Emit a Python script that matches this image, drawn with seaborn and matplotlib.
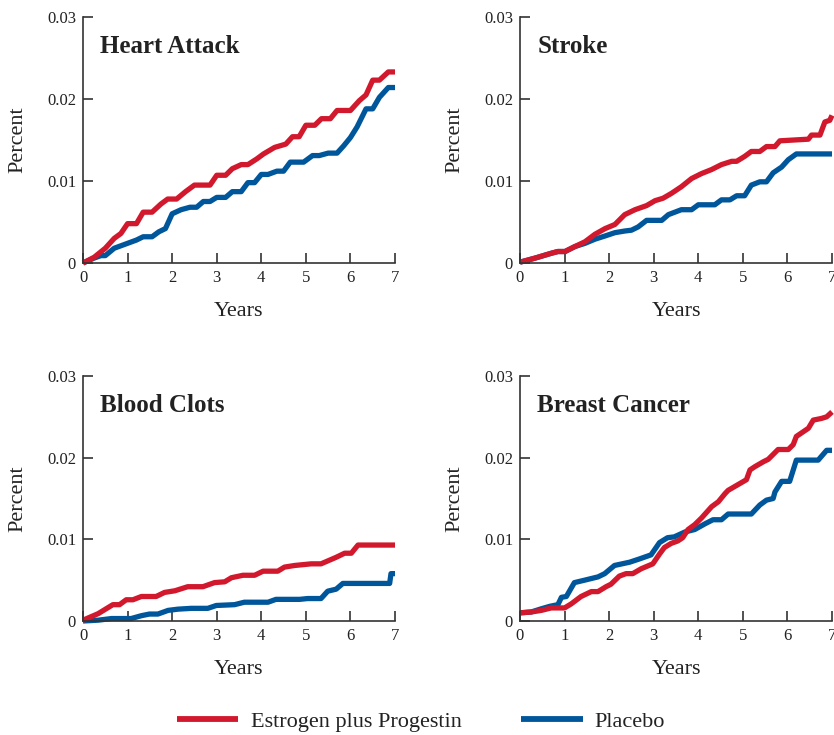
import matplotlib
matplotlib.use("Agg")
import matplotlib.pyplot as plt
from matplotlib.lines import Line2D
import seaborn as sns
import pandas as pd

# Cumulative event rates (years, percent)
heart_ep_years = [0, 0.25, 0.5, 0.7, 0.85, 1.0, 1.2, 1.35, 1.55, 1.75, 1.9, 2.1, 2.3, 2.5, 2.85,
                  3.0, 3.2, 3.35, 3.55, 3.7, 3.9, 4.05, 4.3, 4.55, 4.7, 4.85, 5.0, 5.2, 5.35,
                  5.55, 5.7, 6.0, 6.2, 6.35, 6.5, 6.65, 6.85, 7.0]
heart_ep_pct = [0, 0.0007, 0.0018, 0.0030, 0.0036, 0.0048, 0.0048, 0.0062, 0.0062, 0.0072,
                0.0078, 0.0078, 0.0087, 0.0095, 0.0095, 0.0107, 0.0107, 0.0115, 0.0120, 0.0120,
                0.0127, 0.0133, 0.0141, 0.0145, 0.0154, 0.0154, 0.0168, 0.0168, 0.0176, 0.0176,
                0.0186, 0.0186, 0.0198, 0.0205, 0.0223, 0.0223, 0.0233, 0.0233]
heart_pl_years = [0, 0.25, 0.4, 0.5, 0.7, 0.85, 1.0, 1.2, 1.35, 1.55, 1.7, 1.85, 2.0, 2.2, 2.4,
                  2.55, 2.7, 2.85, 3.0, 3.2, 3.35, 3.55, 3.7, 3.85, 4.0, 4.15, 4.35, 4.5, 4.65,
                  4.95, 5.15, 5.3, 5.5, 5.7, 5.85, 6.0, 6.15, 6.35, 6.5, 6.65, 6.85, 7.0]
heart_pl_pct = [0, 0.0006, 0.0009, 0.0009, 0.0018, 0.0021, 0.0024, 0.0028, 0.0032, 0.0032,
                0.0038, 0.0042, 0.0060, 0.0065, 0.0068, 0.0068, 0.0075, 0.0075, 0.0080, 0.0080,
                0.0087, 0.0087, 0.0098, 0.0098, 0.0108, 0.0108, 0.0112, 0.0112, 0.0123, 0.0123,
                0.0131, 0.0131, 0.0134, 0.0134, 0.0143, 0.0153, 0.0166, 0.0188, 0.0188, 0.0202,
                0.0214, 0.0214]

stroke_ep_years = [0, 0.34, 0.71, 0.85, 1.01, 1.23, 1.46, 1.68, 1.91, 2.13, 2.35, 2.58, 2.84,
                   3.03, 3.21, 3.40, 3.62, 3.85, 4.07, 4.30, 4.52, 4.75, 4.86, 5.04, 5.19, 5.38,
                   5.53, 5.72, 5.83, 6.47, 6.54, 6.73, 6.84, 6.95, 7.0]
stroke_ep_pct = [0.0001, 0.0006, 0.0012, 0.0014, 0.0014, 0.0020, 0.0026, 0.0035, 0.0042, 0.0047,
                 0.0059, 0.0065, 0.0070, 0.0076, 0.0079, 0.0085, 0.0093, 0.0103, 0.0109, 0.0114,
                 0.0120, 0.0124, 0.0124, 0.0130, 0.0136, 0.0136, 0.0142, 0.0142, 0.0149, 0.0151,
                 0.0156, 0.0156, 0.0172, 0.0174, 0.0180]
stroke_pl_years = [0, 0.34, 0.71, 0.85, 1.01, 1.23, 1.46, 1.68, 1.91, 2.13, 2.35, 2.50, 2.65,
                   2.84, 3.18, 3.33, 3.62, 3.85, 4.00, 4.37, 4.52, 4.71, 4.86, 5.04, 5.19, 5.38,
                   5.53, 5.68, 5.87, 6.02, 6.20, 7.0]
stroke_pl_pct = [0.0001, 0.0006, 0.0012, 0.0014, 0.0014, 0.0020, 0.0024, 0.0029, 0.0033, 0.0037,
                 0.0039, 0.0040, 0.0044, 0.0052, 0.0052, 0.0059, 0.0065, 0.0065, 0.0071, 0.0071,
                 0.0077, 0.0077, 0.0082, 0.0082, 0.0095, 0.0099, 0.0099, 0.0110, 0.0117, 0.0126,
                 0.0133, 0.0133]

clots_ep_years = [0, 0.34, 0.67, 0.82, 0.97, 1.12, 1.31, 1.64, 1.83, 2.06, 2.35, 2.69, 2.95,
                  3.18, 3.33, 3.59, 3.85, 4.04, 4.37, 4.52, 4.75, 5.12, 5.34, 5.68, 5.87, 6.02,
                  6.17, 7.0]
clots_ep_pct = [0.0001, 0.0009, 0.0020, 0.0020, 0.0026, 0.0026, 0.0030, 0.0030, 0.0035, 0.0037,
                0.0042, 0.0042, 0.0047, 0.0048, 0.0053, 0.0056, 0.0056, 0.0061, 0.0061, 0.0066,
                0.0068, 0.0070, 0.0070, 0.0078, 0.0083, 0.0083, 0.0093, 0.0093]
clots_pl_years = [0, 0.34, 0.64, 1.08, 1.31, 1.49, 1.68, 1.91, 2.13, 2.43, 2.80, 2.99, 3.40,
                  3.62, 4.15, 4.33, 4.86, 5.04, 5.34, 5.49, 5.68, 5.83, 6.88, 6.91, 7.0]
clots_pl_pct = [0, 0.0001, 0.0003, 0.0003, 0.00065, 0.00085, 0.00085, 0.0013, 0.00145, 0.00155,
                0.00155, 0.0019, 0.0020, 0.0023, 0.0023, 0.00265, 0.00265, 0.00275, 0.00275,
                0.00365, 0.0039, 0.0046, 0.0046, 0.0058, 0.0058]

breast_ep_years = [0, 0.25, 0.48, 0.7, 1.0, 1.15, 1.37, 1.6, 1.75, 1.93, 2.04, 2.23, 2.38, 2.53,
                   2.72, 2.98, 3.13, 3.24, 3.39, 3.54, 3.65, 3.77, 3.92, 4.07, 4.30, 4.45, 4.60,
                   4.67, 5.08, 5.16, 5.27, 5.46, 5.57, 5.79, 6.02, 6.13, 6.20, 6.47, 6.58, 6.76,
                   6.88, 7.0]
breast_ep_pct = [0.0010, 0.0011, 0.0013, 0.0016, 0.0016, 0.0021, 0.0030, 0.0036, 0.0036, 0.0042,
                 0.0045, 0.0055, 0.0058, 0.0058, 0.0064, 0.0070, 0.0082, 0.0090, 0.0095, 0.0098,
                 0.0102, 0.0112, 0.0118, 0.0126, 0.0140, 0.0146, 0.0156, 0.0160, 0.0173, 0.0185,
                 0.0189, 0.0195, 0.0198, 0.0210, 0.0210, 0.0216, 0.0226, 0.0236, 0.0246, 0.0248,
                 0.0250, 0.0256]
breast_pl_years = [0, 0.25, 0.48, 0.67, 0.85, 0.93, 1.04, 1.22, 1.45, 1.75, 1.9, 2.12, 2.46,
                   2.68, 2.94, 3.13, 3.31, 3.46, 3.70, 3.92, 4.15, 4.33, 4.52, 4.67, 5.19, 5.38,
                   5.53, 5.68, 5.72, 5.87, 6.05, 6.20, 6.69, 6.88, 7.0]
breast_pl_pct = [0.0010, 0.0011, 0.0015, 0.0018, 0.0020, 0.0029, 0.0030, 0.0047, 0.0050, 0.0054,
                 0.0058, 0.0068, 0.0072, 0.0076, 0.0081, 0.0096, 0.0102, 0.0103, 0.0109, 0.0112,
                 0.0119, 0.0124, 0.0124, 0.0131, 0.0131, 0.0142, 0.0148, 0.0150, 0.0158, 0.0171,
                 0.0171, 0.0197, 0.0197, 0.0209, 0.0209]

panel_titles = ["Heart Attack", "Stroke", "Blood Clots", "Breast Cancer"]
series_names = ["Estrogen plus Progestin", "Placebo"]
x_ticks = [0, 1, 2, 3, 4, 5, 6, 7]
y_ticks = [0, 0.01, 0.02, 0.03]
y_tick_labels = ["0", "0.01", "0.02", "0.03"]

panels = [
    (heart_ep_years, heart_ep_pct, heart_pl_years, heart_pl_pct),
    (stroke_ep_years, stroke_ep_pct, stroke_pl_years, stroke_pl_pct),
    (clots_ep_years, clots_ep_pct, clots_pl_years, clots_pl_pct),
    (breast_ep_years, breast_ep_pct, breast_pl_years, breast_pl_pct),
]

RED = "#d2182d"
BLUE = "#00569a"
palette = {series_names[0]: RED, series_names[1]: BLUE}

sns.set_style("ticks")
plt.rcParams["font.family"] = ["Liberation Serif", "DejaVu Serif"]

fig = plt.figure(figsize=(8.34, 7.35), dpi=100)

# axes rectangles in figure fractions: [left, bottom, width, height]
rects = [
    [83 / 834, 1 - 263 / 735, 312 / 834, 246 / 735],
    [520 / 834, 1 - 263 / 735, 312 / 834, 246 / 735],
    [83 / 834, 1 - 621 / 735, 312 / 834, 245 / 735],
    [520 / 834, 1 - 621 / 735, 312 / 834, 245 / 735],
]

for rect, title, (ep_x, ep_y, pl_x, pl_y) in zip(rects, panel_titles, panels):
    ax = fig.add_axes(rect)
    df = pd.DataFrame({
        "Years": pl_x + ep_x,
        "Percent": pl_y + ep_y,
        "group": [series_names[1]] * len(pl_x) + [series_names[0]] * len(ep_x),
    })
    # placebo first so the red line sits on top where they overlap
    sns.lineplot(
        data=df, x="Years", y="Percent", hue="group", hue_order=series_names[::-1],
        palette=palette, estimator=None, legend=False, linewidth=3.8, ax=ax,
    )
    for line in ax.get_lines():
        line.set_solid_capstyle("butt")
        line.set_clip_on(False)

    ax.set_xlim(0, 7)
    ax.set_ylim(0, 0.03)
    ax.set_xticks(x_ticks)
    ax.set_yticks(y_ticks)
    ax.set_yticklabels(y_tick_labels)
    sns.despine(ax=ax)
    for side in ["left", "bottom"]:
        ax.spines[side].set_color("#333333")
        ax.spines[side].set_linewidth(1.2)
    ax.tick_params(direction="in", length=7, width=1.2, color="#333333",
                   labelsize=12, labelcolor="#222222", pad=5)
    ax.set_xlabel("Years", fontsize=16, color="#222222")
    ax.set_ylabel("Percent", fontsize=16, color="#222222")
    ax.xaxis.set_label_coords(0.5, -0.16)
    ax.yaxis.set_label_coords(-0.178, 0.5)
    ax.text(0.055, 0.852, title, transform=ax.transAxes, fontsize=18,
            fontweight="bold", color="#222222", va="baseline")

handles = [Line2D([], [], color=RED, linewidth=4.2, solid_capstyle="butt"),
           Line2D([], [], color=BLUE, linewidth=4.2, solid_capstyle="butt")]
fig.legend(handles, series_names, loc="center", bbox_to_anchor=(0.505, 0.018), ncol=2,
           frameon=False, fontsize=16, handlelength=2.75, handletextpad=0.55,
           columnspacing=2.7, labelcolor="#222222")

fig.savefig("out.png", dpi=100)
plt.close(fig)
